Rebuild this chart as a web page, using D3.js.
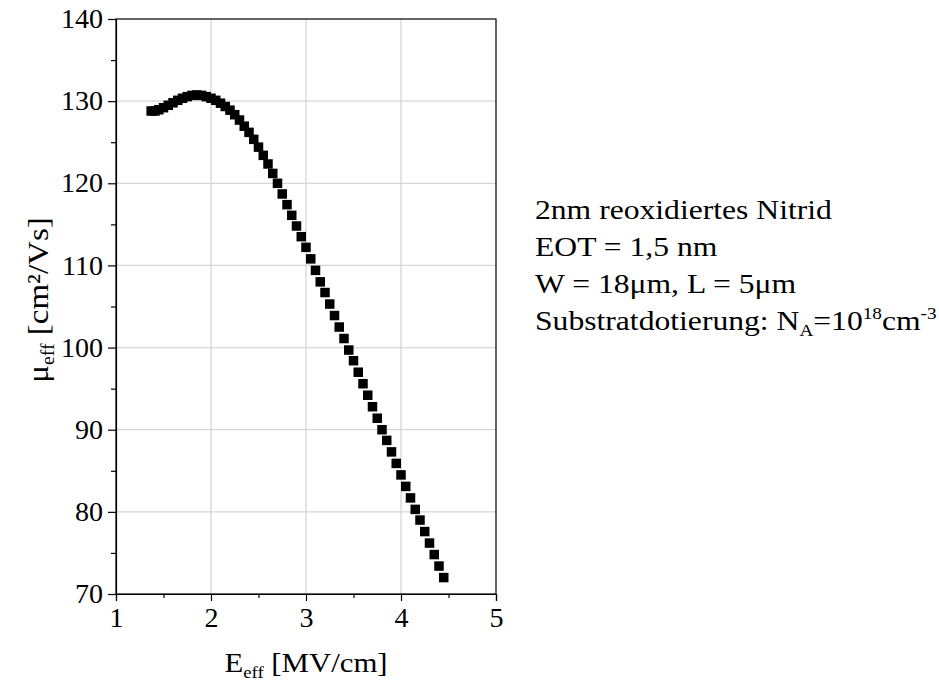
<!DOCTYPE html>
<html><head><meta charset="utf-8">
<script src="https://cdnjs.cloudflare.com/ajax/libs/d3/7.8.5/d3.min.js"></script>
<style>body{margin:0;background:#fff}svg{display:block}text{font-family:"Liberation Serif","Times New Roman",serif;fill:#000}</style>
</head><body><svg id="c" width="939" height="695"></svg>
<script>
const E_eff = [1.37,1.41,1.45,1.50,1.55,1.60,1.65,1.70,1.75,1.80,1.85,1.90,1.95,2.00,2.05,2.10,2.15,2.20,2.25,2.30,2.35,2.40,2.45,2.50,2.55,2.60,2.65,2.70,2.75,2.80,2.85,2.90,2.95,3.00,3.05,3.10,3.15,3.20,3.25,3.30,3.35,3.40,3.45,3.50,3.55,3.60,3.65,3.70,3.75,3.80,3.85,3.90,3.95,4.00,4.05,4.10,4.15,4.20,4.25,4.30,4.35,4.40,4.45];
const mu_eff = [128.8,128.8,128.95,129.2,129.5,129.8,130.1,130.35,130.55,130.7,130.75,130.7,130.55,130.35,130.1,129.75,129.35,128.9,128.35,127.7,126.95,126.2,125.35,124.4,123.4,122.35,121.2,120.0,118.7,117.4,116.1,114.8,113.5,112.2,110.8,109.4,108.0,106.7,105.3,103.9,102.5,101.1,99.7,98.4,97.0,95.6,94.2,92.8,91.4,90.0,88.7,87.3,85.9,84.5,83.1,81.7,80.3,79.0,77.6,76.2,74.8,73.4,72.0];
const xTicks = [1,2,3,4,5];
const xMinor = [1.5,2.5,3.5,4.5];
const yTicks = [70,80,90,100,110,120,130,140];
const yMinor = [75,85,95,105,115,125,135];
const notes = ["2nm reoxidiertes Nitrid","EOT = 1,5 nm","W = 18μm, L = 5μm"];

const svg = d3.select("#c");
const L=116,R=496,T=19,B=594;
const x = d3.scaleLinear().domain([1,5]).range([L,R]);
const y = d3.scaleLinear().domain([70,140]).range([B,T]);
const SX = 1.13; // horizontal stretch of the reference lettering

// grid
svg.append("g").selectAll("line").data(xTicks.slice(1,-1)).join("line")
  .attr("x1",d=>x(d)).attr("x2",d=>x(d)).attr("y1",T).attr("y2",B)
  .attr("stroke","#d6d6d6").attr("stroke-width",1.3);
svg.append("g").selectAll("line").data(yTicks.slice(1,-1)).join("line")
  .attr("y1",d=>y(d)).attr("y2",d=>y(d)).attr("x1",L).attr("x2",R)
  .attr("stroke","#d6d6d6").attr("stroke-width",1.3);

// axes
const fs=27;
svg.append("g").attr("class","xa").attr("transform",`translate(0,${B})`)
  .call(d3.axisBottom(x).tickValues(xTicks).tickFormat(d3.format("d")).tickSize(7).tickPadding(7));
svg.append("g").attr("transform",`translate(0,${B})`)
  .call(d3.axisBottom(x).tickValues(xMinor).tickFormat("").tickSize(4)).select(".domain").remove();
svg.append("g").attr("class","ya").attr("transform",`translate(${L},0)`)
  .call(d3.axisLeft(y).tickValues(yTicks).tickFormat(d3.format("d")).tickSize(8).tickPadding(5));
svg.append("g").attr("transform",`translate(${L},0)`)
  .call(d3.axisLeft(y).tickValues(yMinor).tickFormat("").tickSize(5)).select(".domain").remove();
svg.selectAll(".tick text").attr("font-size",fs).attr("fill","#000");
svg.selectAll(".ya .tick text").each(function(){
  const t=d3.select(this); const xx=+t.attr("x");
  t.attr("x",0).attr("transform",`translate(${xx},0) scale(1.04,1)`);
});
svg.selectAll(".xa .tick text").attr("transform","scale(1.04,1)");
svg.selectAll(".tick line, .domain").attr("stroke","#000").attr("stroke-width",1.2);
// frame
svg.append("rect").attr("x",L).attr("y",T).attr("width",R-L).attr("height",B-T)
  .attr("fill","none").attr("stroke","#000").attr("stroke-width",1.2);

// points
const s=9.5;
svg.append("g").selectAll("rect").data(E_eff.map((e,i)=>[e,mu_eff[i]])).join("rect")
  .attr("x",d=>x(d[0])-s/2).attr("y",d=>y(d[1])-s/2).attr("width",s).attr("height",s).attr("fill","#000");

// x title
const xt = svg.append("text").attr("transform",`translate(${(L+R)/2},672) scale(1.1,1)`).attr("text-anchor","middle").attr("font-size",28);
xt.append("tspan").text("E");
xt.append("tspan").attr("font-size",17).attr("dy",6).text("eff");
xt.append("tspan").attr("dy",-6).text(" [MV/cm]");

// y title
const yt = svg.append("text").attr("transform","translate(48,300) rotate(-90) scale(1.1,1)").attr("text-anchor","middle").attr("font-size",30);
yt.append("tspan").text("μ");
yt.append("tspan").attr("font-size",18).attr("dy",6).text("eff");
yt.append("tspan").attr("dy",-6).text(" [cm²/Vs]");

// notes
const nx=535, ny0=219, dyl=37;
svg.append("g").selectAll("text").data(notes).join("text")
  .attr("transform",(d,i)=>`translate(${nx},${ny0+i*dyl}) scale(${SX},1)`).attr("font-size",28).text(d=>d);
const n4 = svg.append("text").attr("transform",`translate(${nx},${ny0+3*dyl}) scale(${SX},1)`).attr("font-size",28);
n4.append("tspan").text("Substratdotierung: N");
n4.append("tspan").attr("font-size",17).attr("dy",6).text("A");
n4.append("tspan").attr("dy",-6).text("=10");
n4.append("tspan").attr("font-size",17).attr("dy",-11).text("18");
n4.append("tspan").attr("dy",11).text("cm");
n4.append("tspan").attr("font-size",17).attr("dy",-11).text("-3");
</script></body></html>
